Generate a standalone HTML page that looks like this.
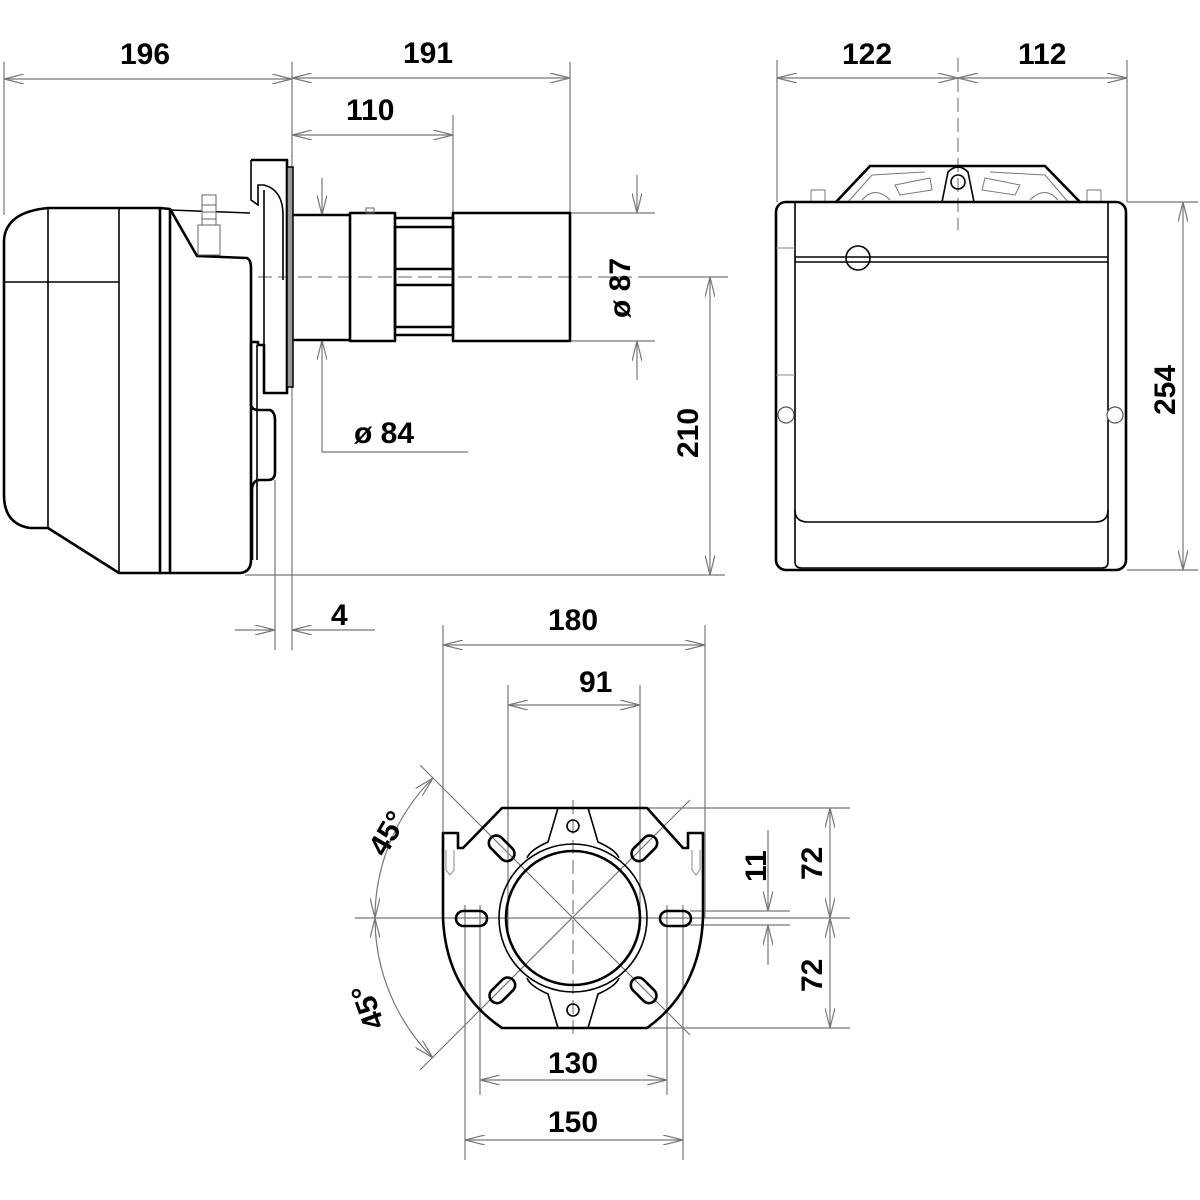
<!DOCTYPE html>
<html><head><meta charset="utf-8"><style>
html,body{margin:0;padding:0;background:#fff;width:1200px;height:1200px;overflow:hidden}
text{font-family:"Liberation Sans",sans-serif;font-weight:bold;font-size:30px;fill:#000}
.d{stroke:#777;stroke-width:1.2;fill:none}
.t{stroke:#000;stroke-width:2.6;fill:none;stroke-linejoin:round}
.m{stroke:#000;stroke-width:1.6;fill:none}
.c{stroke:#666;stroke-width:1;fill:none;stroke-dasharray:14 6}
</style></head><body>
<svg width="1200" height="1200" viewBox="0 0 1200 1200" xmlns="http://www.w3.org/2000/svg">
<defs>
<marker id="a" viewBox="0 0 20 10" refX="20" refY="5" markerWidth="20" markerHeight="10" markerUnits="userSpaceOnUse" orient="auto-start-reverse"><path d="M0 0L20 5L0 10" fill="none" stroke="#777" stroke-width="1.2"/></marker>
</defs>

<!-- top dims side view -->
<g class="d">
<line x1="4" y1="62" x2="4" y2="215"/>
<line x1="292" y1="62" x2="292" y2="650"/>
<line x1="570" y1="62" x2="570" y2="213"/>
<line x1="453" y1="115" x2="453" y2="213"/>
<line x1="4" y1="79" x2="292" y2="79" marker-start="url(#a)" marker-end="url(#a)"/>
<line x1="292" y1="78" x2="570" y2="78" marker-start="url(#a)" marker-end="url(#a)"/>
<line x1="292" y1="135" x2="453" y2="135" marker-start="url(#a)" marker-end="url(#a)"/>
<!-- ø87 -->
<line x1="570" y1="213" x2="655" y2="213"/>
<line x1="570" y1="341" x2="655" y2="341"/>
<line x1="637" y1="175" x2="637" y2="213" marker-end="url(#a)"/>
<line x1="637" y1="380" x2="637" y2="341" marker-end="url(#a)"/>
<!-- ø84 -->
<line x1="322" y1="178" x2="322" y2="215" marker-end="url(#a)"/>
<line x1="322" y1="452" x2="322" y2="340" marker-end="url(#a)"/>
<line x1="322" y1="452" x2="468" y2="452"/>
<!-- 210 -->
<line x1="245" y1="575" x2="725" y2="575"/>
<line x1="710" y1="277" x2="710" y2="575" marker-start="url(#a)" marker-end="url(#a)"/>
<line x1="640" y1="277" x2="728" y2="277"/>
<!-- 4 -->
<line x1="275" y1="480" x2="275" y2="650"/>
<line x1="235" y1="630" x2="275" y2="630" marker-end="url(#a)"/>
<line x1="375" y1="630" x2="292" y2="630" marker-end="url(#a)"/>
</g>
<line class="c" x1="258" y1="277" x2="640" y2="277"/>
<text x="120" y="64">196</text>
<text x="403" y="63">191</text>
<text x="346" y="120">110</text>
<text x="354" y="443">ø 84</text>
<text x="331" y="625">4</text>
<text transform="translate(630,318) rotate(-90)">ø 87</text>
<text transform="translate(698,458) rotate(-90)">210</text>

<!-- side body -->
<path class="t" d="M48 208 L160 208 L170 209 L197 256 L247 258 Q251 260 251 268 L251 560 Q251 572 240 573 L119 573 L48 528 L30 528 Q4 524 4 495 L4 240 Q6 212 48 208 Z"/>
<line class="m" x1="48" y1="208" x2="48" y2="528"/>
<line class="m" x1="119" y1="208" x2="119" y2="573"/>
<line class="t" x1="160" y1="208" x2="160" y2="573"/>
<line class="t" x1="170" y1="209" x2="170" y2="573"/>
<line class="m" x1="4" y1="282" x2="119" y2="282"/>
<line class="m" x1="170" y1="210" x2="250" y2="213"/>
<!-- nozzle fitting -->
<g stroke="#666" stroke-width="1" fill="#fff">
<rect x="198" y="225" width="22" height="30"/>
<rect x="202" y="195" width="14" height="30"/>
<line x1="202" y1="205" x2="216" y2="205"/><line x1="202" y1="212" x2="216" y2="212"/><line x1="202" y1="219" x2="216" y2="219"/>
</g>
<!-- flange -->
<path class="t" d="M251 160 L287 160 L287 393 L264 393 L264 345 L258 345 L258 342 L251 342"/>
<path class="m" d="M251 160 L251 200 L258 205 L258 185 L264 185 Q283 190 283 215 L283 280"/>
<path class="m" d="M264 190 L264 393"/>
<rect x="287" y="167" width="6" height="220" fill="#999" stroke="#000" stroke-width="1.5"/>
<path class="t" d="M251 342 L251 405 Q252 410 258 410 L270 410 Q275 412 275 420 L275 472 Q275 480 268 480 L258 480 Q252 482 252 490 L252 560"/>
<line class="m" x1="257" y1="345" x2="257" y2="560"/>
<!-- tube -->
<path class="t" d="M293 215 L350 215 M293 340 L350 340"/>
<rect class="t" x="350" y="213" width="45" height="128"/>
<path class="t" d="M395 218 L453 218 M395 335 L453 335"/>
<rect class="t" x="395" y="227" width="58" height="100"/>
<path class="t" d="M395 269 L453 269 M395 285 L453 285"/>
<rect class="t" x="453" y="213" width="117" height="128"/>
<rect x="366" y="208" width="8" height="5" fill="none" stroke="#666"/>

<!-- front view -->
<g class="d">
<line x1="777" y1="60" x2="777" y2="202"/>
<line x1="1127" y1="60" x2="1127" y2="202"/>
<line x1="777" y1="78" x2="958" y2="78" marker-start="url(#a)" marker-end="url(#a)"/>
<line x1="958" y1="78" x2="1127" y2="78" marker-start="url(#a)" marker-end="url(#a)"/>
<line x1="1127" y1="202" x2="1198" y2="202"/>
<line x1="1127" y1="570" x2="1198" y2="570"/>
<line x1="1183" y1="202" x2="1183" y2="570" marker-start="url(#a)" marker-end="url(#a)"/>
</g>
<line class="c" x1="958" y1="58" x2="958" y2="230"/>
<text x="842" y="64">122</text>
<text x="1018" y="64">112</text>
<text transform="translate(1175,415) rotate(-90)">254</text>
<path class="t" d="M836 202 L870 166 L1045 166 L1080 202"/>
<g stroke="#777" stroke-width="1" fill="none">
<path d="M848 202 L872 175 L925 172 M990 172 L1045 175 L1068 202"/>
<path d="M862 200 Q875 185 890 200 M1030 200 Q1045 185 1058 200"/>
<path d="M895 185 L930 178 L932 190 L900 195 Z M985 178 L1020 185 L1015 195 L982 190 Z"/>
<rect x="811" y="190" width="14" height="12"/><rect x="1087" y="190" width="14" height="12"/>
</g>
<path class="m" d="M942 202 L948 172 Q958 162 968 172 L974 202"/>
<circle class="m" cx="958" cy="182" r="7"/>
<rect class="t" x="776" y="202" width="350" height="368" rx="10"/>
<path class="m" d="M795 202 L795 562 Q795 568 802 568 L1102 568 Q1108 568 1108 562 L1108 202"/>
<path class="m" d="M795 257 L1108 257 M795 262 L1108 262"/>
<path class="m" d="M795 510 Q795 522 808 522 L1095 522 Q1108 522 1108 510"/>
<circle class="m" cx="858" cy="258" r="12" fill="#fff"/>
<circle cx="786" cy="415" r="8" fill="#fff" stroke="#555" stroke-width="1.2"/>
<circle cx="1115" cy="415" r="8" fill="#fff" stroke="#555" stroke-width="1.2"/>
<line stroke="#888" stroke-width="1" x1="776" y1="248" x2="795" y2="248"/>
<line stroke="#888" stroke-width="1" x1="776" y1="375" x2="795" y2="375"/>

<!-- flange view dims -->
<g class="d">
<line x1="443" y1="625" x2="443" y2="835"/>
<line x1="705" y1="625" x2="705" y2="918"/>
<line x1="508" y1="685" x2="508" y2="930"/>
<line x1="640" y1="685" x2="640" y2="930"/>
<line x1="443" y1="645" x2="705" y2="645" marker-start="url(#a)" marker-end="url(#a)"/>
<line x1="508" y1="705" x2="640" y2="705" marker-start="url(#a)" marker-end="url(#a)"/>
<line x1="480" y1="905" x2="480" y2="1095"/>
<line x1="667" y1="905" x2="667" y2="1095"/>
<line x1="465" y1="905" x2="465" y2="1160"/>
<line x1="683" y1="905" x2="683" y2="1160"/>
<line x1="480" y1="1080" x2="667" y2="1080" marker-start="url(#a)" marker-end="url(#a)"/>
<line x1="465" y1="1140" x2="683" y2="1140" marker-start="url(#a)" marker-end="url(#a)"/>
<line x1="647" y1="808" x2="850" y2="808"/>
<line x1="647" y1="1028" x2="850" y2="1028"/>
<line x1="355" y1="918" x2="850" y2="918"/>
<line x1="690" y1="911" x2="790" y2="911"/>
<line x1="690" y1="925" x2="790" y2="925"/>
<line x1="830" y1="808" x2="830" y2="918" marker-start="url(#a)" marker-end="url(#a)"/>
<line x1="830" y1="918" x2="830" y2="1028" marker-start="url(#a)" marker-end="url(#a)"/>
<line x1="768" y1="830" x2="768" y2="911" marker-end="url(#a)"/>
<line x1="768" y1="965" x2="768" y2="925" marker-end="url(#a)"/>
<line x1="420" y1="765" x2="690" y2="1035"/>
<line x1="420" y1="1070" x2="690" y2="800"/>
<path d="M433 778 A198 198 0 0 0 375 918" marker-start="url(#a)" marker-end="url(#a)"/>
<path d="M433 1058 A198 198 0 0 1 375 918" marker-start="url(#a)" marker-end="url(#a)"/>
</g>
<line class="c" x1="573" y1="800" x2="573" y2="1040"/>
<text x="548" y="630">180</text>
<text x="579" y="692">91</text>
<text x="548" y="1073">130</text>
<text x="548" y="1132">150</text>
<text transform="translate(822,880) rotate(-90)">72</text>
<text transform="translate(822,992) rotate(-90)">72</text>
<text transform="translate(766,882) rotate(-90)">11</text>
<text transform="translate(385,858) rotate(-60)">45°</text>
<text transform="translate(385,1025) rotate(-110)" style="font-size:30px">45°</text>

<!-- flange outline -->
<path class="t" d="M502 808 L647 808 L683 848 L688 848 L688 833 L703 833 L703 918 Q700 990 647 1028 L502 1028 Q446 990 443 918 L443 833 L458 833 L458 848 L463 848 Z"/>
<path class="m" d="M558 808 L548 842 Q530 850 527 858 M588 808 L598 842 Q616 850 619 858"/>
<path class="m" d="M558 1028 L548 994 Q530 986 527 978 M588 1028 L598 994 Q616 986 619 978"/>
<circle class="m" cx="573" cy="918" r="74"/>
<circle class="t" cx="573" cy="918" r="67"/>
<circle class="m" cx="573" cy="826" r="6"/>
<circle class="m" cx="573" cy="1010" r="6"/>
<rect class="t" x="456" y="911" width="31" height="15" rx="7.5"/>
<rect class="t" x="660" y="911" width="31" height="15" rx="7.5"/>
<g class="t">
<rect x="487" y="841" width="30" height="15" rx="7.5" transform="rotate(45 502 848)"/>
<rect x="629" y="841" width="30" height="15" rx="7.5" transform="rotate(-45 644 848)"/>
<rect x="487" y="983" width="30" height="15" rx="7.5" transform="rotate(-45 502 990)"/>
<rect x="629" y="983" width="30" height="15" rx="7.5" transform="rotate(45 644 990)"/>
</g>
<g stroke="#888" stroke-width="1" fill="none">
<path d="M446 850 L446 870 L450 875 L454 870 L454 850"/>
<path d="M692 850 L692 870 L696 875 L700 870 L700 850"/>
</g>
</svg>
</body></html>
